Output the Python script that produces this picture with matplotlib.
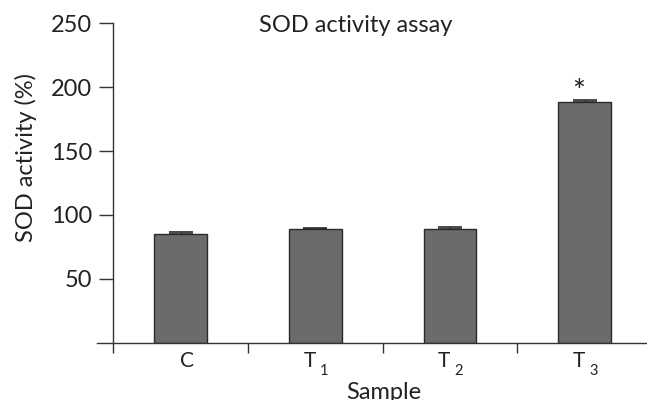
import matplotlib
matplotlib.use("Agg")
import matplotlib.pyplot as plt
import numpy as np

categories = ["C", "T1", "T2", "T3"]
values = [85.1, 88.7, 88.7, 188.6]
errors = [1.5, 0.8, 2.1, 1.4]
yticks = [50, 100, 150, 200, 250]
title = "SOD activity assay"
ylabel = "SOD activity (%)"
xlabel = "Sample"
sig_marks = ["", "", "", "*"]

FONT = "Lato"
plt.rcParams['font.family'] = [FONT, 'DejaVu Sans']

TXT = "#222222"
AX = "#333333"
PX = 0.72  # points per pixel at dpi 100

fig = plt.figure(figsize=(6.47, 4.0), dpi=100)
ax = fig.add_axes([97.3/647, 57.3/400, (647-97.3)/647, (342.7-23.3)/400])

x = np.arange(len(categories))
ax.bar(x, values, width=0.39, color="#6b6b6b", edgecolor="#2a2a2a", linewidth=1.0, zorder=2)
ax.errorbar(x, values, yerr=[np.zeros(len(errors)), errors], fmt="none",
            ecolor="#2a2a2a", elinewidth=1.0, capsize=8.3, capthick=1.2, zorder=3)
for xi, v, e, s in zip(x, values, errors, sig_marks):
    if s:
        ax.annotate(s, (xi, v + e), xytext=(-5.7 * PX, 22 * PX), textcoords="offset points",
                    ha="center", va="top", fontsize=22, color=TXT)

ax.set_xlim(-0.618, 3.463)
ax.set_ylim(0, 250)

for sp in ["top", "right"]:
    ax.spines[sp].set_visible(False)
ax.spines["left"].set_position(("data", -0.5))
ax.spines["left"].set_bounds(0, 250)
for sp in ["left", "bottom"]:
    ax.spines[sp].set_color(AX)
    ax.spines[sp].set_linewidth(1.0)

ax.set_yticks(yticks)
ax.set_yticklabels([str(t) for t in yticks])
ax.tick_params(axis="y", direction="out", length=10.4, width=1.0, color=AX,
               labelsize=17, labelcolor=TXT, pad=5)

# category labels (base letter + lowered subscript, as in the reference)
ax.set_xticks(x)
ax.set_xticklabels([""] * len(categories))
ax.tick_params(axis="x", which="major", length=0)
ax.set_xticks(np.arange(-0.5, len(categories) - 0.5, 1.0), minor=True)
ax.tick_params(axis="x", which="minor", direction="out", length=7, width=1.0, color=AX)

trans = ax.get_xaxis_transform()
for xi, cat in zip(x, categories):
    base, sub = cat[0], cat[1:]
    if sub:
        ax.annotate(base, (xi, 0), xycoords=trans, xytext=(0.5 * PX, -24.0 * PX),
                    textcoords="offset points", ha="right", va="baseline",
                    fontsize=15, color=TXT, annotation_clip=False)
        ax.annotate(sub, (xi, 0), xycoords=trans, xytext=(4.3 * PX, -32.3 * PX),
                    textcoords="offset points", ha="left", va="baseline",
                    fontsize=10.5, color=TXT, annotation_clip=False)
    else:
        ax.annotate(base, (xi, 0), xycoords=trans, xytext=(6 * PX, -24.0 * PX),
                    textcoords="offset points", ha="center", va="baseline",
                    fontsize=15, color=TXT, annotation_clip=False)

fig.text(355.5/647, 1 - 25/400, title, ha="center", va="center", fontsize=17, color=TXT)
fig.text(26/647, 1 - 157/400, ylabel, ha="center", va="center", rotation=90, fontsize=17, color=TXT)
fig.text(383.5/647, 1 - 398.7/400, xlabel, ha="center", va="baseline", fontsize=17, color=TXT)

fig.savefig("out.png", dpi=100)
